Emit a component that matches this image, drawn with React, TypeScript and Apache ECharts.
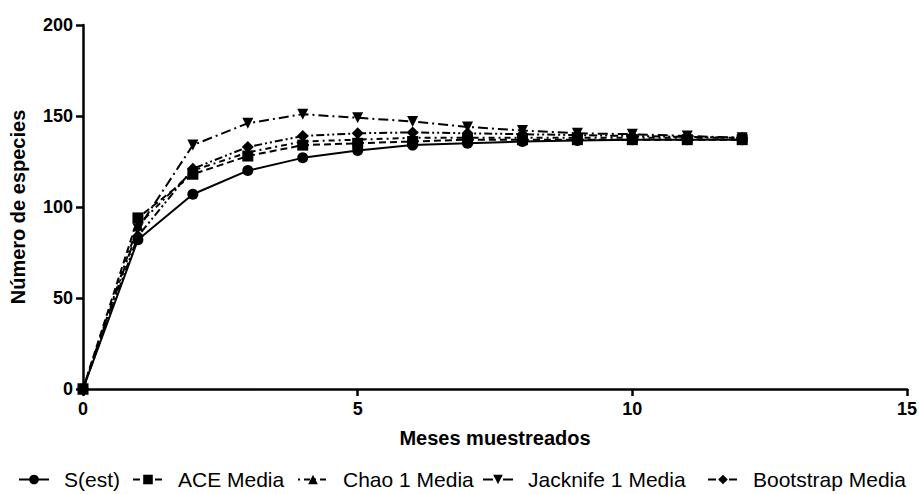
import React, { useEffect, useRef } from "react";
import * as echarts from "echarts";

const months = [0, 1, 2, 3, 4, 5, 6, 7, 8, 9, 10, 11, 12];
const sEst = [0, 82, 107, 120, 127, 131, 134, 135, 136, 136.5, 137, 137, 137];
const aceMedia = [0, 94, 118, 128, 134, 135, 136, 137, 137, 137, 137, 137, 137];
const chao1Media = [0, 90, 120, 130, 136, 137, 138, 138, 138, 138, 138, 138, 138];
const jack1Media = [0, 88, 134, 146, 151, 149, 147, 144, 142, 140.5, 140, 139, 138];
const bootMedia = [0, 84, 121, 133, 139, 140.5, 141, 140.5, 140, 139.5, 139, 138.5, 138];
const seriesNames = ["S(est)", "ACE Media", "Chao 1 Media", "Jacknife 1 Media", "Bootstrap Media"];
const legendLefts = [18, 132, 297, 482, 707];

const FONT = "Liberation Sans, Arial, sans-serif";

export default function App() {
  const ref = useRef<HTMLDivElement>(null);
  useEffect(() => {
    if (!ref.current) return;
    const chart = echarts.init(ref.current, undefined, { renderer: "svg" });
    const pair = (arr: number[]) => months.map((m, i) => [m, arr[i]]);
    const mk = (name: string, data: number[], symbol: string, type: any, size = 11) => ({
      name,
      type: "line",
      data: pair(data),
      symbol,
      symbolSize: size,
      showSymbol: true,
      itemStyle: { color: "#000" },
      lineStyle: { color: "#000", width: 2, type },
      z: 3,
    });
    const legends = seriesNames.map((n, i) => ({
      data: [n],
      top: 469,
      left: legendLefts[i],
      padding: 0,
      itemWidth: 30,
      itemHeight: 12,
      textStyle: { fontSize: 21, color: "#000", fontFamily: FONT, padding: [0, 0, 0, 10] },
    }));
    chart.setOption({
      animation: false,
      textStyle: { fontFamily: FONT },
      grid: { left: 83, right: 12, top: 25, bottom: 105, containLabel: false, outerBoundsMode: "none" },
      xAxis: {
        type: "value",
        min: 0,
        max: 15,
        interval: 5,
        name: "Meses muestreados",
        nameLocation: "middle",
        nameGap: 39,
        nameTextStyle: { fontSize: 20, fontWeight: "bold", color: "#000", fontFamily: FONT },
        axisLine: { show: true, lineStyle: { color: "#000", width: 2.5 } },
        axisTick: { show: true, length: 7, lineStyle: { color: "#000", width: 2.5 } },
        axisLabel: { fontSize: 18, fontWeight: "bold", color: "#000", fontFamily: FONT, margin: 11 },
        splitLine: { show: false },
      },
      yAxis: {
        type: "value",
        min: 0,
        max: 200,
        interval: 50,
        name: "Número de especies",
        nameLocation: "middle",
        nameGap: 55,
        nameTextStyle: { fontSize: 20, fontWeight: "bold", color: "#000", fontFamily: FONT },
        axisLine: { show: true, lineStyle: { color: "#000", width: 2.5 } },
        axisTick: { show: true, length: 7, lineStyle: { color: "#000", width: 2.5 } },
        axisLabel: { fontSize: 18, fontWeight: "bold", color: "#000", fontFamily: FONT, margin: 10 },
        splitLine: { show: false },
      },
      legend: legends,
      series: [
        mk(seriesNames[0], sEst, "circle", "solid"),
        mk(seriesNames[1], aceMedia, "rect", [7, 4]),
        mk(seriesNames[2], chao1Media, "triangle", [2, 4, 6, 4]),
        mk(seriesNames[3], jack1Media, "path://M0,0 L10,0 L5,10 Z", [10, 4, 2, 4]),
        mk(seriesNames[4], bootMedia, "diamond", [8, 3, 2, 3, 2, 3], 12),
      ],
    });
    return () => chart.dispose();
  }, []);
  return (
    <div
      ref={ref}
      style={{ position: "absolute", left: 0, top: 0, width: 919, height: 494 }}
    />
  );
}
